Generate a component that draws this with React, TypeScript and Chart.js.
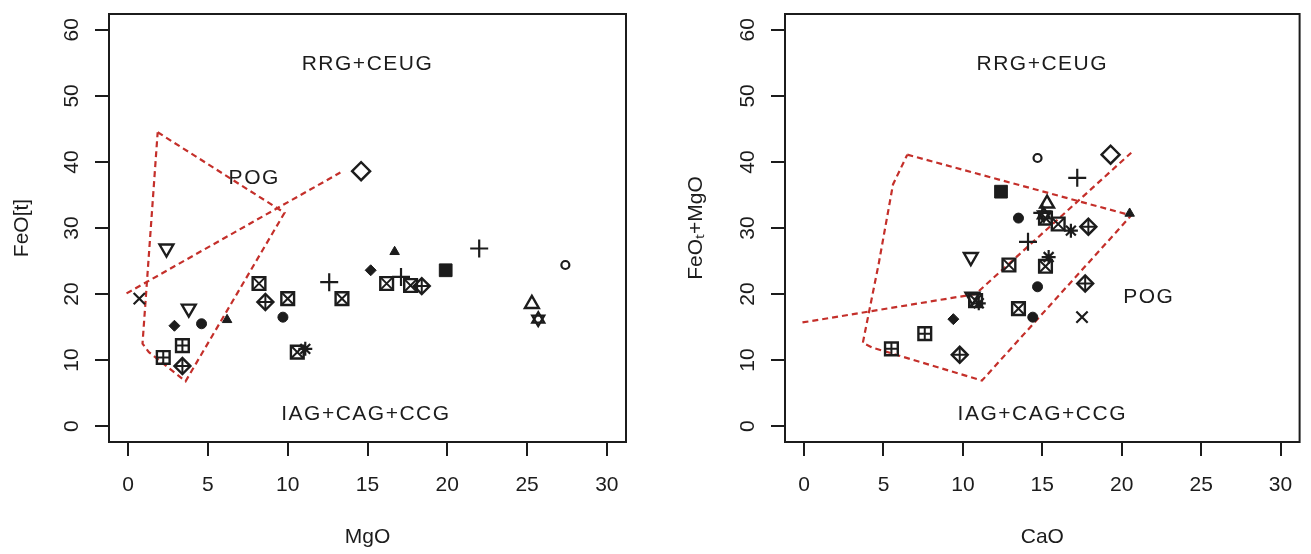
import React, { useEffect, useRef } from "react";
import { Chart, registerables } from "chart.js";

Chart.register(...registerables);

type Pt = [number, number];

const FONT = '"Liberation Sans", Arial, Helvetica, sans-serif';
const INK = "#1c1c1c";
const RED = "#c42f2a";

// ---- axis ticks ----
const X_TICKS = [0, 5, 10, 15, 20, 25, 30];
const Y_TICKS = [0, 10, 20, 30, 40, 50, 60];
const X_RANGE: Pt = [-1.2, 31.2];
const Y_RANGE: Pt = [-2.4, 62.4];

// ---- field names ----
const FIELD_NAMES = ["RRG+CEUG", "IAG+CAG+CCG", "POG"];

// ================= Left panel: MgO vs FeO(t) =================
const MGO_INV_TRI: Pt[] = [[2.4, 26.9], [3.8, 17.8]];
const MGO_X_CROSS: Pt[] = [[0.7, 19.3]];
const MGO_FILLED_DIAMOND: Pt[] = [[2.9, 15.2], [15.2, 23.6]];
const MGO_FILLED_CIRCLE: Pt[] = [[4.6, 15.5], [9.7, 16.5]];
const MGO_FILLED_TRI: Pt[] = [[6.2, 16.1], [16.7, 26.4]];
const MGO_SQUARE_PLUS: Pt[] = [[3.4, 12.2], [2.2, 10.4]];
const MGO_SQUARE_X: Pt[] = [[8.2, 21.6], [10.0, 19.3], [10.6, 11.2], [13.4, 19.3], [16.2, 21.6], [17.7, 21.3]];
const MGO_DIAMOND_PLUS: Pt[] = [[3.4, 9.1], [8.6, 18.8], [18.4, 21.2]];
const MGO_ASTERISK: Pt[] = [[11.1, 11.7]];
const MGO_PLUS: Pt[] = [[12.6, 21.8], [17.1, 22.6], [22.0, 26.9]];
const MGO_OPEN_DIAMOND: Pt[] = [[14.6, 38.6]];
const MGO_FILLED_SQUARE: Pt[] = [[19.9, 23.6]];
const MGO_OPEN_CIRCLE: Pt[] = [[27.4, 24.4]];
const MGO_OPEN_TRI: Pt[] = [[25.3, 18.5]];
const MGO_STAR_TRI: Pt[] = [[25.7, 16.2]];

const MGO_DIVIDE: Pt[] = [[-0.1, 20.1], [13.3, 38.4]];
const MGO_POG_FIELD: Pt[] = [[1.85, 44.5], [9.8, 32.3], [3.6, 6.8], [1.3, 11.2], [0.9, 12.5], [1.85, 44.5]];
const MGO_LABEL_POS: Pt[] = [[15.0, 54.8], [14.9, 1.8], [7.9, 37.6]];

// ================= Right panel: CaO vs FeOt+MgO =================
const CAO_INV_TRI: Pt[] = [[10.5, 25.6], [10.6, 19.6]];
const CAO_X_CROSS: Pt[] = [[17.5, 16.5]];
const CAO_FILLED_DIAMOND: Pt[] = [[9.4, 16.2]];
const CAO_FILLED_CIRCLE: Pt[] = [[13.5, 31.5], [14.7, 21.1], [14.4, 16.5]];
const CAO_FILLED_TRI: Pt[] = [[20.5, 32.2]];
const CAO_SQUARE_PLUS: Pt[] = [[7.6, 14.0], [5.5, 11.7]];
const CAO_SQUARE_X: Pt[] = [[15.2, 31.5], [16.0, 30.6], [12.9, 24.4], [15.2, 24.2], [13.5, 17.8], [10.8, 19.0]];
const CAO_DIAMOND_PLUS: Pt[] = [[9.8, 10.8], [17.9, 30.2], [17.7, 21.6]];
const CAO_ASTERISK: Pt[] = [[11.0, 18.6], [15.4, 25.6], [16.8, 29.6]];
const CAO_PLUS: Pt[] = [[17.2, 37.6], [14.1, 27.9], [15.0, 32.3]];
const CAO_OPEN_DIAMOND: Pt[] = [[19.3, 41.1]];
const CAO_FILLED_SQUARE: Pt[] = [[12.4, 35.5]];
const CAO_OPEN_CIRCLE: Pt[] = [[14.7, 40.6]];
const CAO_OPEN_TRI: Pt[] = [[15.3, 33.7]];
const CAO_STAR_TRI: Pt[] = [[15.1, 32.0]];

const CAO_DIVIDE: Pt[] = [[-0.1, 15.7], [10.8, 20.0], [20.6, 41.4]];
const CAO_POG_FIELD: Pt[] = [[6.5, 41.1], [20.6, 31.9], [11.2, 6.9], [4.3, 11.9], [3.7, 12.6], [4.7, 24.6], [5.6, 36.6], [6.5, 41.1]];
const CAO_LABEL_POS: Pt[] = [[15.0, 54.8], [15.0, 1.8], [21.7, 19.5]];

// ---- marker drawing styles (R pch look-alikes) ----
type Layer = { style: string; r: number; lw: number; fill?: boolean; rot?: number };
const MARKERS: Record<string, Layer[]> = {
  invTri: [{ style: "triangle", r: 8, lw: 2.4, rot: 180 }],
  xCross: [{ style: "crossRot", r: 8, lw: 2.2 }],
  filledDiamond: [{ style: "rectRot", r: 5.5, lw: 1, fill: true }],
  filledCircle: [{ style: "circle", r: 5, lw: 1, fill: true }],
  filledTri: [{ style: "triangle", r: 5.5, lw: 1, fill: true }],
  squarePlus: [{ style: "rect", r: 9, lw: 2.4 }, { style: "cross", r: 6.4, lw: 2 }],
  squareX: [{ style: "rect", r: 9, lw: 2.4 }, { style: "crossRot", r: 9, lw: 2 }],
  diamondPlus: [{ style: "rectRot", r: 8, lw: 2.4 }, { style: "cross", r: 8, lw: 2 }],
  asterisk: [{ style: "star", r: 7, lw: 2.2 }],
  plus: [{ style: "cross", r: 9, lw: 2.2 }],
  openDiamond: [{ style: "rectRot", r: 9, lw: 2.4 }],
  filledSquare: [{ style: "rect", r: 9, lw: 1, fill: true }],
  openCircle: [{ style: "circle", r: 4, lw: 2.2 }],
  openTri: [{ style: "triangle", r: 8, lw: 2.4 }],
  starTri: [{ style: "triangle", r: 7, lw: 2.2 }, { style: "triangle", r: 7, lw: 2.2, rot: 180 }],
};

type Panel = {
  groups: Record<string, Pt[]>;
  lines: Pt[][];
  labelPos: Pt[];
  xTitle: string;
  yTitle: string;
  canvasW: number;
  yAxisW: number;
  padRight: number;
  yTitlePad: number;
};

const LEFT: Panel = {
  groups: {
    invTri: MGO_INV_TRI, xCross: MGO_X_CROSS, filledDiamond: MGO_FILLED_DIAMOND,
    filledCircle: MGO_FILLED_CIRCLE, filledTri: MGO_FILLED_TRI, squarePlus: MGO_SQUARE_PLUS,
    squareX: MGO_SQUARE_X, diamondPlus: MGO_DIAMOND_PLUS, asterisk: MGO_ASTERISK, plus: MGO_PLUS,
    openDiamond: MGO_OPEN_DIAMOND, filledSquare: MGO_FILLED_SQUARE, openCircle: MGO_OPEN_CIRCLE,
    openTri: MGO_OPEN_TRI, starTri: MGO_STAR_TRI,
  },
  lines: [MGO_DIVIDE, MGO_POG_FIELD],
  labelPos: MGO_LABEL_POS,
  xTitle: "MgO",
  yTitle: "FeO[t]",
  canvasW: 655,
  yAxisW: 109,
  padRight: 29,
  yTitlePad: 10,
};

const RIGHT: Panel = {
  groups: {
    invTri: CAO_INV_TRI, xCross: CAO_X_CROSS, filledDiamond: CAO_FILLED_DIAMOND,
    filledCircle: CAO_FILLED_CIRCLE, filledTri: CAO_FILLED_TRI, squarePlus: CAO_SQUARE_PLUS,
    squareX: CAO_SQUARE_X, diamondPlus: CAO_DIAMOND_PLUS, asterisk: CAO_ASTERISK, plus: CAO_PLUS,
    openDiamond: CAO_OPEN_DIAMOND, filledSquare: CAO_FILLED_SQUARE, openCircle: CAO_OPEN_CIRCLE,
    openTri: CAO_OPEN_TRI, starTri: CAO_STAR_TRI,
  },
  lines: [CAO_DIVIDE, CAO_POG_FIELD],
  labelPos: CAO_LABEL_POS,
  xTitle: "CaO",
  yTitle: "FeOₜ+MgO",
  canvasW: 656,
  yAxisW: 130,
  padRight: 7,
  yTitlePad: 29,
};

const H = 554;
const PLOT_TOP = 14;
const X_AXIS_H = 112;

const decorPlugin = {
  id: "panelDecor",
  afterDatasetsDraw(chart: any, _args: any, opts: any) {
    const { ctx, chartArea: a, scales } = chart;
    ctx.save();
    // frame
    ctx.strokeStyle = INK;
    ctx.lineWidth = 2;
    ctx.strokeRect(a.left, a.top, a.right - a.left, a.bottom - a.top);
    // rotated y tick labels
    ctx.fillStyle = INK;
    ctx.font = `21px ${FONT}`;
    ctx.textAlign = "center";
    ctx.textBaseline = "middle";
    for (const t of scales.y.ticks) {
      const y = scales.y.getPixelForValue(t.value);
      ctx.save();
      ctx.translate(a.left - 37, y);
      ctx.rotate(-Math.PI / 2);
      ctx.fillText(String(t.value), 0, 0);
      ctx.restore();
    }
    // field names
    (ctx as any).letterSpacing = "1.5px";
    const pos: Pt[] = opts.labelPos || [];
    FIELD_NAMES.forEach((name, i) => {
      const p = pos[i];
      if (!p) return;
      ctx.fillText(name, scales.x.getPixelForValue(p[0]), scales.y.getPixelForValue(p[1]));
    });
    ctx.restore();
  },
};

function buildConfig(p: Panel): any {
  const datasets: any[] = [];
  p.lines.forEach((line) => {
    datasets.push({
      type: "line",
      data: line.map(([x, y]) => ({ x, y })),
      showLine: true,
      borderColor: RED,
      borderWidth: 2.2,
      borderDash: [6, 4],
      pointRadius: 0,
      fill: false,
      tension: 0,
      order: 2,
    });
  });
  Object.entries(p.groups).forEach(([key, pts]) => {
    MARKERS[key].forEach((layer) => {
      datasets.push({
        type: "scatter",
        data: pts.map(([x, y]) => ({ x, y })),
        showLine: false,
        pointStyle: layer.style,
        pointRadius: layer.r,
        pointRotation: layer.rot || 0,
        pointBorderWidth: layer.lw,
        pointBorderColor: INK,
        pointBackgroundColor: layer.fill ? INK : "rgba(0,0,0,0)",
        order: 1,
      });
    });
  });

  return {
    type: "scatter",
    data: { datasets },
    plugins: [decorPlugin],
    options: {
      responsive: false,
      maintainAspectRatio: false,
      animation: false,
      events: [],
      layout: { padding: { top: PLOT_TOP, right: p.padRight, left: 0, bottom: 0 } },
      plugins: {
        legend: { display: false },
        tooltip: { enabled: false },
        panelDecor: { labelPos: p.labelPos },
      },
      scales: {
        x: {
          type: "linear",
          min: X_RANGE[0],
          max: X_RANGE[1],
          afterBuildTicks: (s: any) => {
            s.ticks = X_TICKS.map((v) => ({ value: v }));
          },
          afterFit: (s: any) => {
            s.height = X_AXIS_H;
          },
          border: { display: false },
          grid: { drawOnChartArea: false, drawTicks: true, tickLength: 14, color: INK, lineWidth: 2 },
          ticks: {
            color: INK,
            font: { family: FONT, size: 21 },
            padding: 17,
            maxRotation: 0,
            callback: (v: any) => String(v),
          },
          title: {
            display: true,
            text: p.xTitle,
            color: INK,
            font: { family: FONT, size: 21 },
            padding: { top: 0, bottom: 4 },
          },
        },
        y: {
          type: "linear",
          min: Y_RANGE[0],
          max: Y_RANGE[1],
          afterBuildTicks: (s: any) => {
            s.ticks = Y_TICKS.map((v) => ({ value: v }));
          },
          afterFit: (s: any) => {
            s.width = p.yAxisW;
          },
          border: { display: false },
          grid: { drawOnChartArea: false, drawTicks: true, tickLength: 14, color: INK, lineWidth: 2 },
          ticks: { display: false },
          title: {
            display: true,
            text: p.yTitle,
            color: INK,
            font: { family: FONT, size: 21 },
            padding: { top: p.yTitlePad, bottom: 0 },
          },
        },
      },
    },
  };
}

function PanelChart({ panel, left }: { panel: Panel; left: number }) {
  const ref = useRef<HTMLCanvasElement | null>(null);
  useEffect(() => {
    if (!ref.current) return;
    const chart = new Chart(ref.current, buildConfig(panel));
    return () => chart.destroy();
  }, [panel]);
  return (
    <canvas
      ref={ref}
      width={panel.canvasW}
      height={H}
      style={{ position: "absolute", left, top: 0, width: panel.canvasW, height: H, display: "block" }}
    />
  );
}

export default function App() {
  return (
    <div style={{ position: "absolute", left: 0, top: 0, width: 1311, height: H, background: "#fff" }}>
      <PanelChart panel={LEFT} left={0} />
      <PanelChart panel={RIGHT} left={655} />
    </div>
  );
}
